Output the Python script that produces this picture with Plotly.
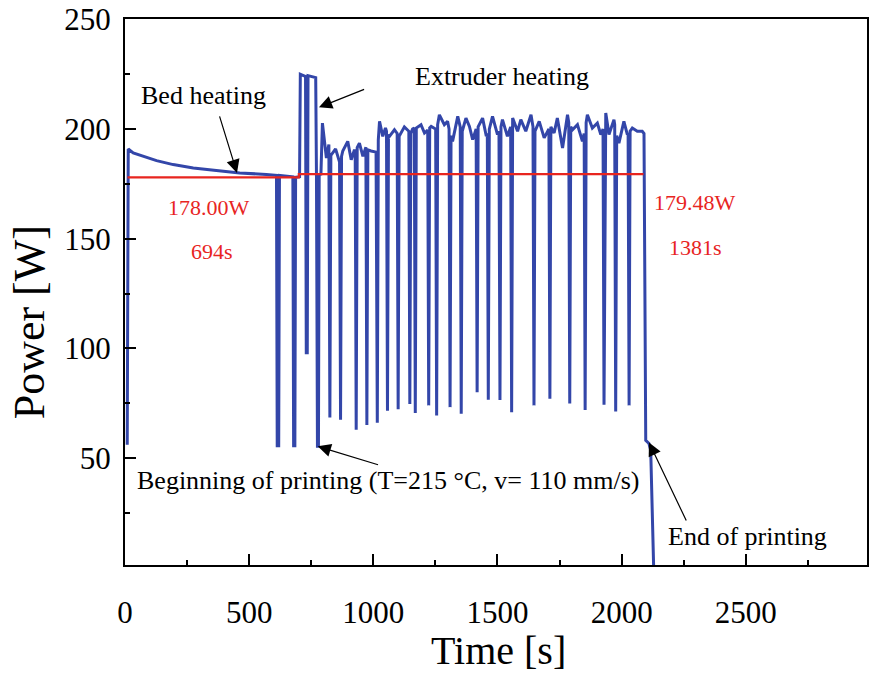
import plotly.graph_objects as go

# ---------------- data ----------------
# measured power trace (time in s, power in W)
blue_t = [9, 13, 33, 74, 127, 194, 275, 368, 462, 569, 610, 613, 619, 622, 650, 676,
          679, 684, 687, 703, 706, 727, 730, 734, 737, 768, 771, 775, 779, 782, 789,
          795, 811, 821, 825, 829, 848, 864, 868, 872, 877, 897, 911, 924, 927, 931,
          935, 944, 958, 970, 974, 978, 991, 1011, 1016, 1020, 1025, 1038, 1049, 1053,
          1057, 1061, 1065, 1085, 1096, 1100, 1104, 1125, 1143, 1147, 1151, 1158, 1165,
          1169, 1173, 1192, 1206, 1219, 1223, 1227, 1233, 1246, 1251, 1255, 1259, 1266,
          1286, 1299, 1305, 1309, 1313, 1319, 1340, 1350, 1354, 1358, 1373, 1387, 1400,
          1414, 1418, 1422, 1440, 1455, 1459, 1463, 1467, 1480, 1500, 1506, 1510, 1514,
          1520, 1540, 1553, 1557, 1561, 1581, 1594, 1614, 1635, 1643, 1647, 1651, 1668,
          1688, 1707, 1711, 1715, 1728, 1741, 1762, 1782, 1787, 1791, 1795, 1802, 1822,
          1842, 1849, 1853, 1857, 1862, 1882, 1902, 1916, 1925, 1929, 1933, 1936, 1949,
          1969, 1972, 1976, 1980, 1989, 2009, 2023, 2026, 2030, 2034, 2043, 2063, 2083,
          2090, 2097, 2110, 2117, 2130]
blue_P = [56.0, 190.9, 189.1, 187.6, 185.6, 183.8, 182.3, 181.1, 180.0, 179.3, 178.9, 55.6,
          55.6, 178.9, 178.6, 178.2, 55.6, 55.6, 178.0, 178.3, 225.0, 224.0, 98.0, 98.0,
          224.4, 223.5, 179.3, 55.3, 55.3, 179.3, 179.5, 202.7, 186.8, 193.0, 68.5, 188.0,
          191.0, 185.0, 67.4, 187.5, 190.0, 194.4, 186.0, 190.6, 190.0, 62.9, 191.5, 193.6,
          187.6, 191.7, 65.0, 190.5, 190.0, 189.5, 66.1, 195.0, 203.5, 196.7, 200.5, 199.0,
          71.5, 197.5, 196.7, 199.7, 198.0, 72.2, 196.7, 201.0, 199.0, 74.6, 198.0, 200.0,
          200.5, 70.5, 200.5, 202.0, 198.2, 199.5, 74.0, 200.5, 201.2, 200.5, 200.0, 69.4,
          202.0, 206.5, 202.0, 203.5, 200.0, 73.2, 197.0, 194.4, 205.8, 201.0, 70.2, 199.0,
          205.0, 201.2, 195.2, 200.0, 80.0, 201.0, 205.0, 196.7, 198.0, 76.6, 200.0, 205.8,
          197.5, 199.0, 76.4, 201.0, 204.3, 196.7, 201.0, 70.9, 205.0, 199.0, 204.3, 199.0,
          206.5, 201.0, 74.0, 199.0, 203.5, 196.0, 200.0, 77.0, 201.0, 198.2, 205.0, 191.4,
          206.5, 203.0, 74.9, 201.0, 199.7, 202.0, 194.4, 198.0, 71.9, 203.0, 206.5, 200.5,
          202.7, 197.5, 200.0, 74.3, 205.0, 207.3, 197.5, 204.3, 202.0, 71.2, 197.0, 193.6,
          203.5, 197.5, 198.0, 74.0, 199.0, 200.5, 199.0, 199.0, 198.0, 58.0, 56.6, 53.5,
          -5.0]

# average power levels (red line)
red_t = [10, 700, 700, 2088]
red_P = [178.0, 178.0, 179.48, 179.48]

x_ticks = [0, 500, 1000, 1500, 2000, 2500]
x_minor = [250, 750, 1250, 1750, 2250, 2750]
y_ticks = [50, 100, 150, 200, 250]
y_minor = [25, 75, 125, 175, 225]

BLUE = "#3346A9"
RED = "#E8251F"
FONT = "Liberation Serif"

fig = go.Figure()
fig.add_trace(go.Scatter(x=blue_t, y=blue_P, mode="lines",
                         line=dict(color=BLUE, width=3), hoverinfo="skip"))
fig.add_trace(go.Scatter(x=red_t, y=red_P, mode="lines",
                         line=dict(color=RED, width=2.2), hoverinfo="skip"))

axis_common = dict(showline=True, linecolor="black", linewidth=2, mirror=True,
                   showgrid=False, zeroline=False, ticks="inside", ticklen=11,
                   tickwidth=2, tickcolor="black",
                   tickfont=dict(family=FONT, size=31, color="black"))

fig.update_xaxes(range=[0, 2988], tickvals=x_ticks, ticktext=[str(v) for v in x_ticks],
                 minor=dict(tickvals=x_minor, ticks="inside", ticklen=5, tickwidth=2,
                            tickcolor="black"),
                 ticklabelstandoff=19, **axis_common)
fig.update_yaxes(range=[1.2, 250.2], tickvals=y_ticks, ticktext=[str(v) for v in y_ticks],
                 minor=dict(tickvals=y_minor, ticks="inside", ticklen=5, tickwidth=2,
                            tickcolor="black"),
                 ticklabelstandoff=6, **axis_common)

anns = []
# axis titles
anns.append(dict(text="Power [W]", xref="paper", yref="paper", x=-0.129, y=0.445,
                 textangle=-90, showarrow=False, xanchor="center", yanchor="middle",
                 font=dict(family=FONT, size=44, color="black")))
anns.append(dict(text="Time [s]", xref="paper", yref="paper", x=0.504, y=-0.157,
                 showarrow=False, xanchor="center", yanchor="middle",
                 font=dict(family=FONT, size=40, color="black")))

# text labels
labels = [
    ("Bed heating", 317, 215.3, "black", 26),
    ("Extruder heating", 1517, 224.0, "black", 26),
    ("178.00W", 338, 164.2, RED, 22),
    ("694s", 350, 144.0, RED, 22),
    ("179.48W", 2295, 166.5, RED, 22),
    ("1381s", 2299, 146.0, RED, 22),
    ("Beginning of printing (T=215 °C, v= 110 mm/s)", 1061, 39.9, "black", 26),
    ("End of printing", 2506, 14.4, "black", 26),
]
for txt, x, y, col, sz in labels:
    anns.append(dict(text=txt, x=x, y=y, xref="x", yref="y", showarrow=False,
                     xanchor="center", yanchor="middle",
                     font=dict(family=FONT, size=sz, color=col)))

# arrows: (head_t, head_P, tail_t, tail_P)
arrows = [
    (451, 180.0, 379, 206.5),
    (781, 209.9, 969, 218.4),
    (776, 55.3, 1025, 46.7),
    (2110, 57.1, 2263, 20.8),
]
for hx, hy, tx, ty in arrows:
    anns.append(dict(text="", x=hx, y=hy, ax=tx, ay=ty, xref="x", yref="y",
                     axref="x", ayref="y", showarrow=True, arrowhead=2,
                     arrowsize=2.2, arrowwidth=1.2, arrowcolor="black", standoff=0))

fig.update_layout(width=871, height=678, margin=dict(l=125, r=2, t=17, b=113),
                  plot_bgcolor="white", paper_bgcolor="white", showlegend=False,
                  font=dict(family=FONT, color="black"), annotations=anns)

fig.write_html("out.html")
